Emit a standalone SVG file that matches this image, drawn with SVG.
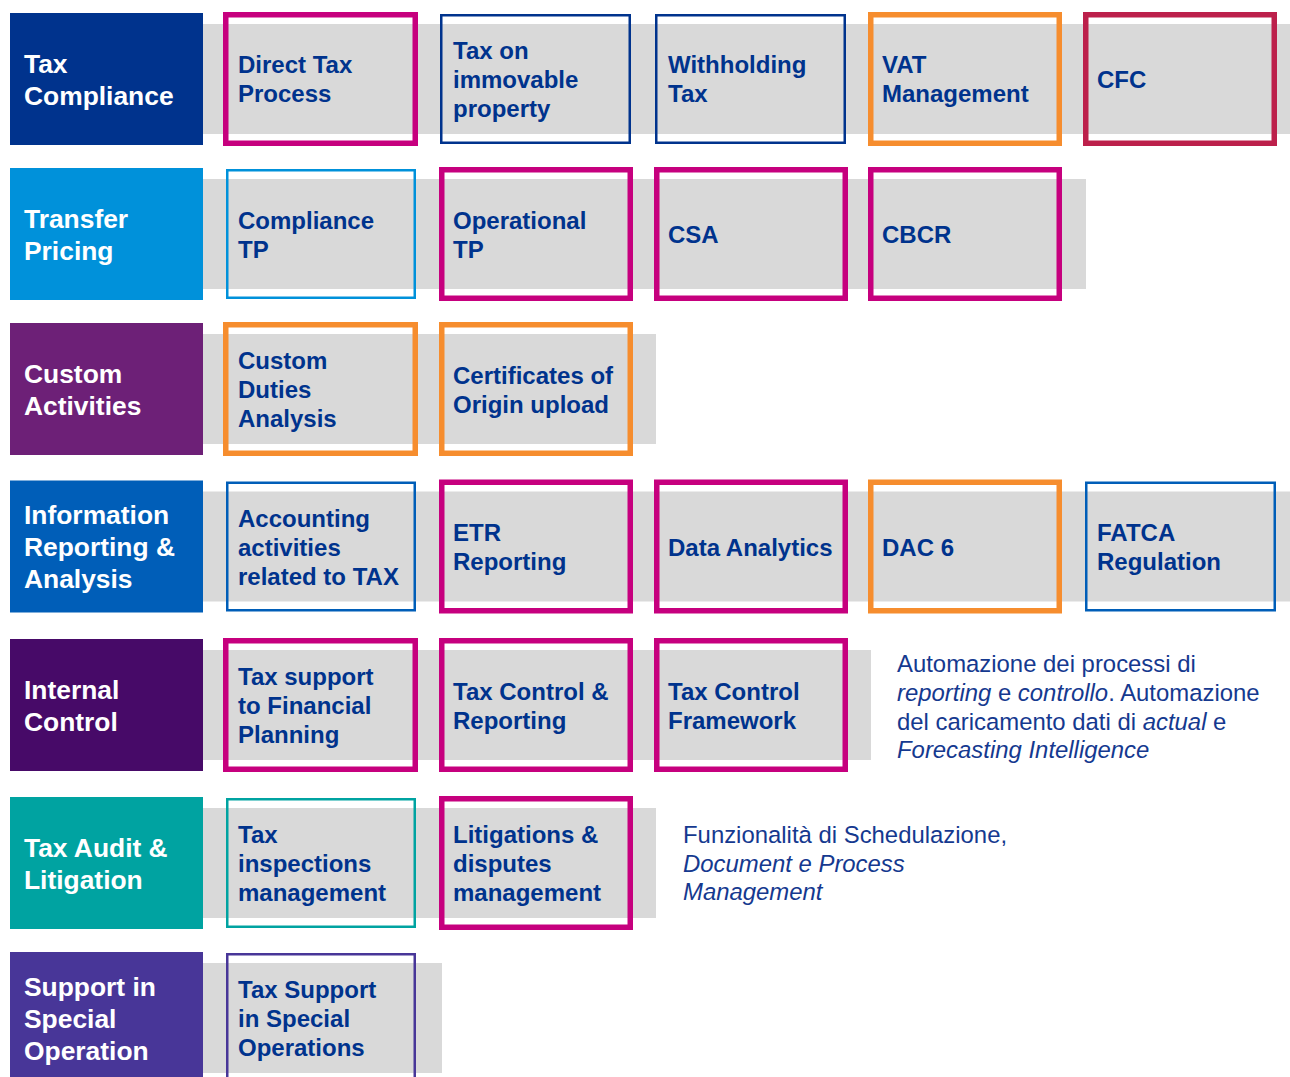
<svg xmlns="http://www.w3.org/2000/svg" width="1290" height="1077" viewBox="0 0 1290 1077">
<style>
.band{fill:#d9d9d9}
.hdr rect{stroke:none}
.ht{font-family:"Liberation Sans",Arial,sans-serif;font-weight:bold;font-size:26.4px;fill:#ffffff}
.bt{font-family:"Liberation Sans",Arial,sans-serif;font-weight:bold;font-size:24px;fill:#00338d}
.dt{font-family:"Liberation Sans",Arial,sans-serif;font-size:23.9px;fill:#15398f}
.it{font-style:italic}
.thick{fill:none;stroke-width:5.5}
.thin{fill:none;stroke-width:2.5}
.mag{stroke:#c6007e}
.org{stroke:#f68d2e}
.red{stroke:#bc204b}
.navy{stroke:#00338d}
.lblue{stroke:#0091da}
.cob{stroke:#005eb8}
.teal{stroke:#00a3a1}
.viol{stroke:#483698}
</style>
<g id="bands">
<rect class="band" x="203" y="24" width="1087" height="110"/>
<rect class="band" x="203" y="179" width="883" height="110"/>
<rect class="band" x="203" y="334" width="453" height="110"/>
<rect class="band" x="203" y="491.5" width="1087" height="110"/>
<rect class="band" x="203" y="650" width="668" height="110"/>
<rect class="band" x="203" y="808" width="453" height="110"/>
<rect class="band" x="203" y="963" width="239" height="110"/>
</g>
<g id="connectors"/>
<!-- Row 1 -->
<g id="h-tax-compliance" class="hdr"><rect x="10" y="13" width="193" height="132" fill="#00338d"/><text class="ht" x="24" y="73">Tax</text><text class="ht" x="24" y="105">Compliance</text></g>
<g id="n-direct-tax"><rect class="thick mag" x="225.75" y="14.75" width="189.5" height="128.5"/><text class="bt" x="238" y="73">Direct Tax</text><text class="bt" x="238" y="102">Process</text></g>
<g id="n-immovable"><rect class="thin navy" x="441.25" y="15.25" width="188.5" height="127.5"/><text class="bt" x="453" y="59">Tax on</text><text class="bt" x="453" y="88">immovable</text><text class="bt" x="453" y="117">property</text></g>
<g id="n-withholding"><rect class="thin navy" x="656.25" y="15.25" width="188.5" height="127.5"/><text class="bt" x="668" y="73">Withholding</text><text class="bt" x="668" y="102">Tax</text></g>
<g id="n-vat"><rect class="thick org" x="870.75" y="14.75" width="188.5" height="128.5"/><text class="bt" x="882" y="73">VAT</text><text class="bt" x="882" y="102">Management</text></g>
<g id="n-cfc"><rect class="thick red" x="1085.75" y="14.75" width="188.5" height="128.5"/><text class="bt" x="1097" y="88">CFC</text></g>
<!-- Row 2 -->
<g id="h-transfer-pricing" class="hdr"><rect x="10" y="168" width="193" height="132" fill="#0091da"/><text class="ht" x="24" y="228">Transfer</text><text class="ht" x="24" y="260">Pricing</text></g>
<g id="n-compliance-tp"><rect class="thin lblue" x="227.25" y="170.25" width="187.5" height="127.5"/><text class="bt" x="238" y="228.5">Compliance</text><text class="bt" x="238" y="257.5">TP</text></g>
<g id="n-operational-tp"><rect class="thick mag" x="441.75" y="169.75" width="188.5" height="128.5"/><text class="bt" x="453" y="228.5">Operational</text><text class="bt" x="453" y="257.5">TP</text></g>
<g id="n-csa"><rect class="thick mag" x="656.75" y="169.75" width="188.5" height="128.5"/><text class="bt" x="668" y="243">CSA</text></g>
<g id="n-cbcr"><rect class="thick mag" x="870.75" y="169.75" width="188.5" height="128.5"/><text class="bt" x="882" y="243">CBCR</text></g>
<!-- Row 3 -->
<g id="h-custom" class="hdr"><rect x="10" y="323" width="193" height="132" fill="#6d2077"/><text class="ht" x="24" y="383">Custom</text><text class="ht" x="24" y="415">Activities</text></g>
<g id="n-custom-duties"><rect class="thick org" x="225.75" y="324.75" width="189.5" height="128.5"/><text class="bt" x="238" y="369">Custom</text><text class="bt" x="238" y="398">Duties</text><text class="bt" x="238" y="427">Analysis</text></g>
<g id="n-certificates"><rect class="thick org" x="441.75" y="324.75" width="188.5" height="128.5"/><text class="bt" x="453" y="383.5">Certificates of</text><text class="bt" x="453" y="412.5">Origin upload</text></g>
<!-- Row 4 -->
<g id="h-information" class="hdr"><rect x="10" y="480.5" width="193" height="132" fill="#005eb8"/><text class="ht" x="24" y="524">Information</text><text class="ht" x="24" y="556">Reporting &amp;</text><text class="ht" x="24" y="588">Analysis</text></g>
<g id="n-accounting"><rect class="thin cob" x="227.25" y="482.75" width="187.5" height="127.5"/><text class="bt" x="238" y="526.5">Accounting</text><text class="bt" x="238" y="555.5">activities</text><text class="bt" x="238" y="584.5">related to TAX</text></g>
<g id="n-etr"><rect class="thick mag" x="441.75" y="482.25" width="188.5" height="128.5"/><text class="bt" x="453" y="541">ETR</text><text class="bt" x="453" y="570">Reporting</text></g>
<g id="n-data-analytics"><rect class="thick mag" x="656.75" y="482.25" width="188.5" height="128.5"/><text class="bt" x="668" y="555.5">Data Analytics</text></g>
<g id="n-dac6"><rect class="thick org" x="870.75" y="482.25" width="188.5" height="128.5"/><text class="bt" x="882" y="555.5">DAC 6</text></g>
<g id="n-fatca"><rect class="thin cob" x="1086.25" y="482.75" width="188.5" height="127.5"/><text class="bt" x="1097" y="541">FATCA</text><text class="bt" x="1097" y="570">Regulation</text></g>
<!-- Row 5 -->
<g id="h-internal-control" class="hdr"><rect x="10" y="639" width="193" height="132" fill="#470a68"/><text class="ht" x="24" y="699">Internal</text><text class="ht" x="24" y="731">Control</text></g>
<g id="n-tax-support-fp"><rect class="thick mag" x="225.75" y="640.75" width="189.5" height="128.5"/><text class="bt" x="238" y="685">Tax support</text><text class="bt" x="238" y="714">to Financial</text><text class="bt" x="238" y="743">Planning</text></g>
<g id="n-tax-control-reporting"><rect class="thick mag" x="441.75" y="640.75" width="188.5" height="128.5"/><text class="bt" x="453" y="699.5">Tax Control &amp;</text><text class="bt" x="453" y="728.5">Reporting</text></g>
<g id="n-tcf"><rect class="thick mag" x="656.75" y="640.75" width="188.5" height="128.5"/><text class="bt" x="668" y="699.5">Tax Control</text><text class="bt" x="668" y="728.5">Framework</text></g>
<g id="d-automazione">
<text class="dt" x="897" y="672">Automazione dei processi di</text>
<text class="dt" x="897" y="701"><tspan class="it">reporting</tspan> e <tspan class="it">controllo</tspan>. Automazione</text>
<text class="dt" x="897" y="730">del caricamento dati di <tspan class="it">actual</tspan> e</text>
<text class="dt it" x="897" y="758">Forecasting Intelligence</text>
</g>
<!-- Row 6 -->
<g id="h-tax-audit" class="hdr"><rect x="10" y="797" width="193" height="132" fill="#00a3a1"/><text class="ht" x="24" y="857">Tax Audit &amp;</text><text class="ht" x="24" y="889">Litigation</text></g>
<g id="n-inspections"><rect class="thin teal" x="227.25" y="799.25" width="187.5" height="127.5"/><text class="bt" x="238" y="843">Tax</text><text class="bt" x="238" y="872">inspections</text><text class="bt" x="238" y="901">management</text></g>
<g id="n-litigations"><rect class="thick mag" x="441.75" y="798.75" width="188.5" height="128.5"/><text class="bt" x="453" y="843">Litigations &amp;</text><text class="bt" x="453" y="872">disputes</text><text class="bt" x="453" y="901">management</text></g>
<g id="d-funzionalita">
<text class="dt" x="683" y="843">Funzionalità di Schedulazione,</text>
<text class="dt it" x="683" y="872">Document e Process</text>
<text class="dt it" x="683" y="900">Management</text>
</g>
<!-- Row 7 -->
<g id="h-support" class="hdr"><rect x="10" y="952" width="193" height="132" fill="#483698"/><text class="ht" x="24" y="996">Support in</text><text class="ht" x="24" y="1028">Special</text><text class="ht" x="24" y="1060">Operation</text></g>
<g id="n-tax-support-so"><rect class="thin viol" x="227.25" y="954.25" width="187.5" height="127.5"/><text class="bt" x="238" y="998">Tax Support</text><text class="bt" x="238" y="1027">in Special</text><text class="bt" x="238" y="1056">Operations</text></g>
</svg>
